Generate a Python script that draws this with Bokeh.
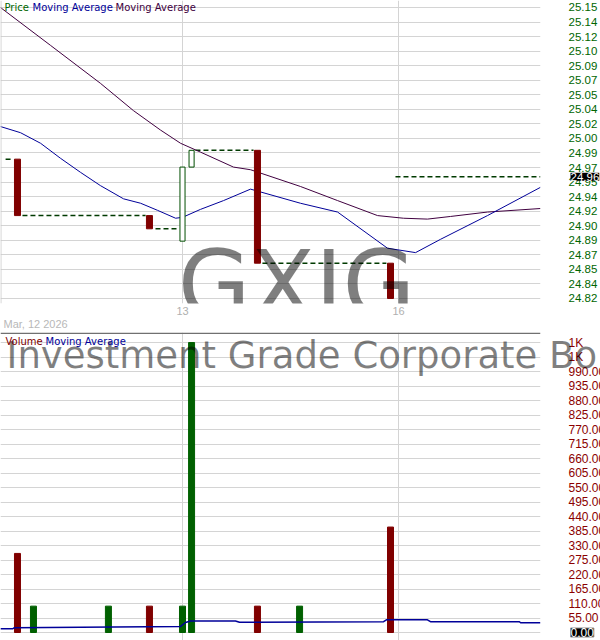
import numpy as np
from bokeh.plotting import figure
from bokeh.layouts import column
from bokeh.models import FixedTicker, Range1d, Label, Span, ColumnDataSource
from bokeh.embed import file_html
from bokeh.resources import INLINE

# ---------------- data ----------------
# x in trading-day units: 1 = start of Mar 13, 2 = start of Mar 16
day_ticks = [1, 2]
day_labels = ["13", "16"]
date_label = "Mar, 12 2026"

candle_x = [0.236, 0.847, 1.000, 1.042, 1.347, 1.963]
candle_open = [24.978, 24.914, 24.885, 24.969, 24.988, 24.860]
candle_close = [24.914, 24.899, 24.969, 24.988, 24.860, 24.820]

flat_start = [0.181, 0.259, 0.875, 1.060, 1.370, 1.986]
flat_end = [0.213, 0.829, 0.981, 1.329, 1.944, 2.657]
flat_price = [24.978, 24.914, 24.899, 24.988, 24.860, 24.958]

ma_long_x = [0.157, 0.389, 0.620, 0.773, 0.898, 0.991, 1.083, 1.236, 1.315, 1.546,
             1.718, 1.903, 2.023, 2.134, 2.241, 2.412, 2.657]
ma_long = [25.150, 25.107, 25.064, 25.033, 25.011, 24.996, 24.986, 24.969, 24.966, 24.947,
           24.931, 24.914, 24.911, 24.910, 24.913, 24.918, 24.922]

ma_short_x = [0.157, 0.250, 0.343, 0.435, 0.528, 0.620, 0.727, 0.806, 0.884, 0.968, 1.000,
              1.083, 1.190, 1.315, 1.546, 1.718, 1.949, 2.079, 2.194, 2.412, 2.657]
ma_short = [25.015, 25.008, 24.996, 24.979, 24.963, 24.948, 24.933, 24.928, 24.920, 24.911, 24.912,
            24.921, 24.931, 24.944, 24.928, 24.918, 24.877, 24.872, 24.887, 24.914, 24.946]

last_price = 24.958
last_price_label = "24.96"

vol_x = [0.236, 0.310, 0.657, 0.847, 1.000, 1.042, 1.347, 1.542, 1.963]
vol = [300, 100, 100, 100, 100, 1100, 100, 100, 400]
vol_dir = ["down", "up", "up", "down", "up", "up", "down", "up", "down"]

vma_x = [0.157, 0.213, 0.222, 0.991, 1.014, 1.037, 1.245, 1.264, 1.931, 1.944,
         2.134, 2.148, 2.560, 2.565, 2.657]
vma = [14, 14, 18, 23, 38, 44, 44, 39, 41, 48, 48, 41, 41, 37, 37]

price_tick_labels = ["24.82", "24.84", "24.85", "24.87", "24.89", "24.90", "24.92", "24.94",
                     "24.95", "24.97", "24.99", "25.00", "25.02", "25.04", "25.05", "25.07",
                     "25.09", "25.10", "25.12", "25.14", "25.15"]
vol_tick_labels = ["0.00", "55.00", "110.00", "165.00", "220.00", "275.00", "330.00", "385.00",
                   "440.00", "495.00", "550.00", "605.00", "660.00", "715.00", "770.00",
                   "825.00", "880.00", "935.00", "990.00", "1K", "1K"]

symbol = "GXIG"
fund_name = "Investment Grade Corporate Bond ETF"

# ---------------- styles ----------------
RED = "#800000"
GREEN = "#006000"
DASH_GREEN = "#003a00"
NAVY = "#000099"
PURPLE = "#400040"
GRID = "#d4d4d4"
X0, X1 = 0.1574, 2.6574
FW = 540
WM_FONT = "DejaVu Sans"
AX_FONT = "Liberation Sans"
AX_SIZE = "12px"
PRICE_SIZE = "11.5px"
STANDOFF = 28

price_ticks = [round(v, 4) for v in np.linspace(24.82, 25.15, len(price_tick_labels))]
vol_ticks = [55 * i for i in range(len(vol_tick_labels))]


def plain_axis(ax, ticks, labels, color, standoff, size=AX_SIZE):
    ax.ticker = FixedTicker(ticks=ticks)
    ax.major_label_overrides = {t: l for t, l in zip(ticks, labels)}
    ax.axis_line_color = None
    ax.major_tick_line_color = None
    ax.minor_tick_line_color = None
    ax.major_tick_out = 0
    ax.major_tick_in = 0
    ax.major_label_standoff = standoff
    ax.major_label_text_color = color
    ax.major_label_text_font = AX_FONT
    ax.major_label_text_font_size = size


def tag_label(y, text, size, border=None):
    kw = dict(x=X1, y=y, x_offset=STANDOFF + 2, text=text, text_align="left",
              text_baseline="middle", text_font=AX_FONT, text_font_size=size,
              text_color="white", background_fill_color="black")
    if border is not None:
        kw["border_line_color"] = border
    return Label(**kw)


# ---------------- price panel ----------------
p1 = figure(output_backend="svg", toolbar_location=None, frame_width=FW, frame_height=303,
            x_range=Range1d(X0, X1), y_range=Range1d(24.8143, 25.1579),
            y_axis_location="right", min_border_left=0, min_border_top=0,
            min_border_bottom=15, min_border_right=60)
p1.outline_line_color = None
p1.background_fill_color = "white"
p1.border_fill_color = "white"

plain_axis(p1.yaxis[0], price_ticks, price_tick_labels, "#006600", STANDOFF, PRICE_SIZE)

xa = p1.xaxis[0]
plain_axis(xa, day_ticks, day_labels, "#b0b0b0", 3, "11px")

p1.ygrid.ticker = FixedTicker(ticks=price_ticks)
p1.xgrid.ticker = FixedTicker(ticks=day_ticks)
p1.grid.grid_line_color = GRID

p1.add_layout(Span(location=X0 + 0.002, dimension="height", line_color="#c8c8c8", line_width=1))

p1.segment(x0=flat_start, y0=flat_price, x1=flat_end, y1=flat_price,
           line_color=DASH_GREEN, line_width=1.5, line_dash="5 3")

p1.line(ma_long_x, ma_long, line_color=PURPLE, line_width=1)
p1.line(ma_short_x, ma_short, line_color=NAVY, line_width=1)

down = [i for i in range(len(candle_x)) if candle_close[i] < candle_open[i]]
up = [i for i in range(len(candle_x)) if candle_close[i] >= candle_open[i]]
p1.vbar(x=[candle_x[i] for i in down], width=0.0278,
        top=[candle_open[i] for i in down], bottom=[candle_close[i] for i in down],
        fill_color=RED, line_color=RED)
p1.vbar(x=[candle_x[i] for i in up], width=0.0235,
        top=[candle_close[i] for i in up], bottom=[candle_open[i] for i in up],
        fill_color="white", line_color="#004d00", line_width=1)

p1.add_layout(Label(x=1.528, y=24.835, text=symbol, text_align="center",
                    text_baseline="alphabetic", text_font=WM_FONT,
                    text_font_size="94px", text_color="black", text_alpha=0.5))

legend_font = "DejaVu Sans"
for txt, col, off in [("Price", "#006600", 4), ("Moving Average", NAVY, 32),
                      ("Moving Average", PURPLE, 115)]:
    p1.add_layout(Label(x=X0, y=25.1579, x_offset=off, y_offset=-1, text=txt,
                        text_baseline="top", text_font=legend_font,
                        text_font_size="10px", text_color=col))

p1.add_layout(tag_label(last_price, last_price_label, PRICE_SIZE), "right")

# ---------------- volume panel ----------------
p2 = figure(output_backend="svg", toolbar_location=None, frame_width=FW, frame_height=308,
            x_range=p1.x_range, y_range=Range1d(-30.3, 1138),
            y_axis_location="right", min_border_left=0, min_border_top=14,
            min_border_bottom=0, min_border_right=60)
p2.outline_line_color = None
p2.background_fill_color = "white"
p2.border_fill_color = "white"
p2.xaxis.visible = False

plain_axis(p2.yaxis[0], vol_ticks[1:], vol_tick_labels[1:], "#8b0000", STANDOFF)

p2.ygrid.ticker = FixedTicker(ticks=vol_ticks)
p2.xgrid.ticker = FixedTicker(ticks=day_ticks)
p2.grid.grid_line_color = GRID

p2.add_layout(Span(location=1135, dimension="width", line_color="#707070", line_width=1.5))

vsrc = ColumnDataSource(dict(x=vol_x, top=vol,
                             color=[RED if d == "down" else GREEN for d in vol_dir]))
p2.vbar(x="x", top="top", bottom=0, width=0.0278, source=vsrc,
        fill_color="color", line_color="color")
p2.line(vma_x, vma, line_color=NAVY, line_width=1.5)

p2.add_layout(Label(x=X0, y=1051, x_offset=6, text=fund_name, text_baseline="alphabetic",
                    text_font=WM_FONT, text_font_size="37px",
                    text_color="black", text_alpha=0.5), "right")
p2.add_layout(Label(x=X0, y=1138, x_offset=3, y_offset=9, text=date_label,
                    text_baseline="middle", text_font=AX_FONT,
                    text_font_size="11px", text_color="#b8b8b8"), "above")
for txt, col, off in [("Volume", RED, 5), ("Moving Average", NAVY, 45)]:
    p2.add_layout(Label(x=X0, y=1138, x_offset=off, y_offset=-3, text=txt,
                        text_baseline="top", text_font=legend_font,
                        text_font_size="10px", text_color=col))
p2.add_layout(tag_label(vol_ticks[0], vol_tick_labels[0], AX_SIZE, "#909090"), "right")

layout = column(p1, p2, spacing=0)
open("out.html", "w").write(file_html(layout, INLINE))
